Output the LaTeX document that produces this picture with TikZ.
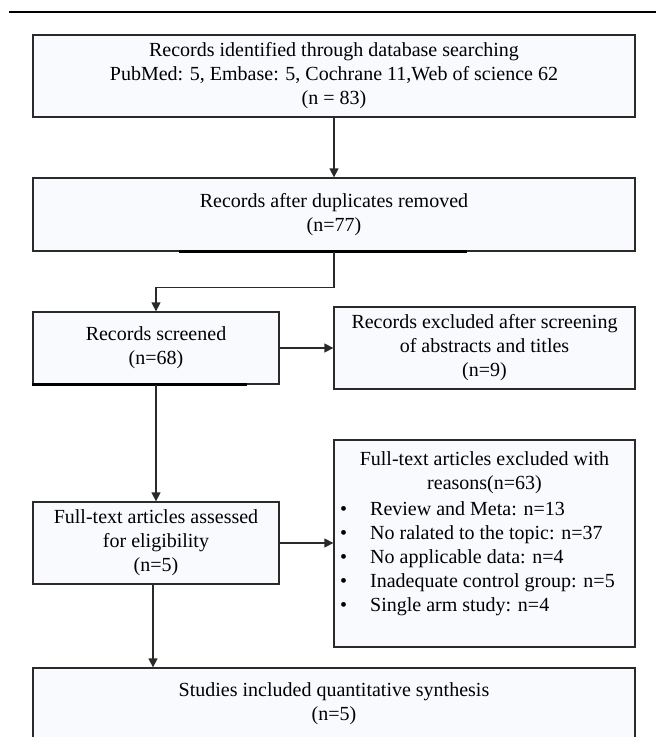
\documentclass[tikz,border=0pt]{standalone}
\usepackage{fontspec}
\setmainfont{Liberation Serif}
\usetikzlibrary{arrows.meta}
\definecolor{boxfill}{HTML}{F8FAFD}
\definecolor{boxline}{HTML}{2A2A2A}
\begin{document}
\begin{tikzpicture}[x=1pt,y=-1pt,
  box/.style={draw=boxline, line width=1.3pt, fill=boxfill, inner sep=0pt, align=center,
    font=\fontsize{20}{24}\selectfont},
  txt/.style={inner sep=0pt, font=\fontsize{20}{24}\selectfont},
  conn/.style={draw=boxline, line width=1.3pt},
  arr/.style={conn, -{Triangle[length=9pt,width=9pt]}},
  artef/.style={draw=black, line width=2.4pt}]
\useasboundingbox (0,0) rectangle (656,737);
\clip (0,0) rectangle (656,737);
\draw[line width=2.6pt, black] (9,12) -- (656,12);

\node[box, minimum width=602, minimum height=82] (b1) at (334,76)
  {Records identified through database searching\\PubMed: 5, Embase: 5, Cochrane 11,Web of science 62\\(n = 83)};
\node[box, minimum width=602, minimum height=73] (b2) at (334,214.5)
  {Records after duplicates removed\\(n=77)};
\node[box, minimum width=246, minimum height=72] (b3) at (156,348)
  {Records screened\\(n=68)};
\node[box, minimum width=301, minimum height=82] (b4) at (484.5,348)
  {Records excluded after screening\\of abstracts and titles\\(n=9)};
\node[box, minimum width=246, minimum height=82] (b5) at (156,543)
  {Full-text articles assessed\\for eligibility\\(n=5)};
\node[box, minimum width=301, minimum height=207] (b6) at (484.5,543.5) {};
\node[box, minimum width=602, minimum height=72] (b7) at (334,704)
  {Studies included quantitative synthesis\\(n=5)};

\node[txt, align=center] (b6t) at (484.5,473) {Full-text articles excluded with\\reasons(n=63)};
\node[txt, anchor=base west] (l1) at (340,515) {\makebox[30pt][l]{\textbullet}Review and Meta: n=13};
\node[txt, anchor=base west] (l2) at (340,539) {\makebox[30pt][l]{\textbullet}No ralated to the topic: n=37};
\node[txt, anchor=base west] (l3) at (340,563) {\makebox[30pt][l]{\textbullet}No applicable data: n=4};
\node[txt, anchor=base west] (l4) at (340,587) {\makebox[30pt][l]{\textbullet}Inadequate control group: n=5};
\node[txt, anchor=base west] (l5) at (340,611) {\makebox[30pt][l]{\textbullet}Single arm study: n=4};

\draw[artef] ([xshift=147pt]b2.south west) -- ([xshift=435pt]b2.south west);
\draw[artef] (b3.south west) -- ([xshift=215pt]b3.south west);

\draw[arr] (b1.south) -- (b2.north);
\draw[arr] (b2.south) -- ++(0,36) -| (b3.north);
\draw[arr] (b3.east) -- (b4.west);
\draw[arr] (b3.south) -- (b5.north);
\draw[arr] (b5.east) -- (b6.west |- b5.east);
\draw[arr] ([xshift=-3pt]b5.south) -- ([xshift=-3pt]b5.south |- b7.north);
\end{tikzpicture}
\end{document}
